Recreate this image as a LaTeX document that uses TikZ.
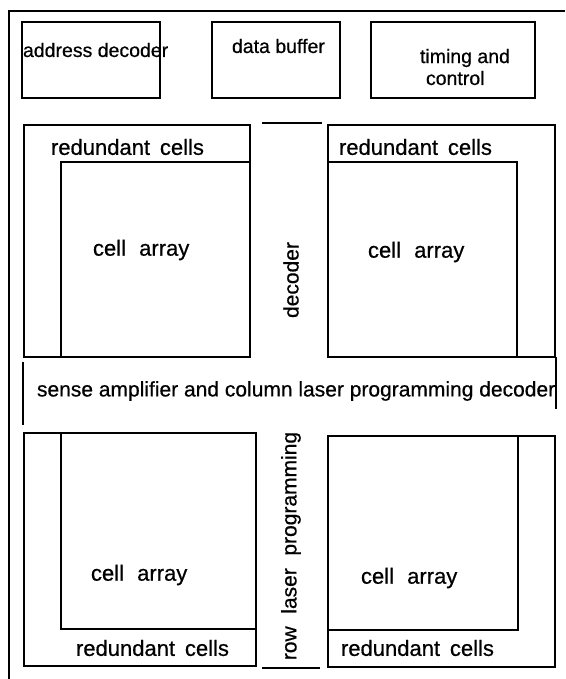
\documentclass[tikz,border=0pt]{standalone}
\usepackage{fontspec}
\setmainfont[FakeBold=0.6]{Liberation Sans}
\begin{document}
\begin{tikzpicture}[x=1pt,y=-1pt,line width=2pt,
  box/.style={draw,line width=2pt},
  lbl/.style={inner sep=0pt,anchor=west,font=\fontsize{22}{26}\selectfont},
  toplbl/.style={inner sep=0pt,anchor=west,font=\fontsize{19.5}{24}\selectfont},
  vlbl/.style={inner sep=0pt,rotate=90,font=\fontsize{21}{25}\selectfont}]
\useasboundingbox (0,0) rectangle (565,679);

% outer frame (left and top edges only)
\coordinate (fb) at (9,679);
\coordinate (fc) at (9,11);
\coordinate (fr) at (565,11);
\draw (fb) -- (fc) -- (fr);

% top row of peripheral blocks
\node[toplbl] (adt) at (22,50) {address decoder};
\draw[box] (22,22) rectangle (160,98);
\node[toplbl] (dbt) at (231,46) {data buffer};
\draw[box] (212,22) rectangle (340,98);
\draw[box] (371,22) rectangle (535,98);
\node[toplbl] (tct) at (419,58) {timing and};
\node[toplbl] (tcc) at (425,78) {control};

% upper left array with redundant cells
\draw[box] (24,125) rectangle (250,357);
\draw[box] (61,162) rectangle (250,357);
\node[lbl] (rc1) at (50,147) {redundant\hspace{.45em}cells};
\node[lbl] (ca1) at (92,250) {cell\hspace{.6em}array};

% upper right array with redundant cells
\draw[box] (328,125) rectangle (555,357);
\draw[box] (328,162) rectangle (517,357);
\node[lbl] (rc2) at (338,147) {redundant\hspace{.45em}cells};
\node[lbl] (ca2) at (367,252) {cell\hspace{.6em}array};

% row decoder column
\coordinate (dt1) at (262,123);
\coordinate (dt2) at (322,123);
\draw (dt1) -- (dt2);
\node[vlbl] (dec) at (291,280) {decoder};
\node[vlbl] (rlp) at (291,546) {row\hspace{.6em}laser\hspace{.6em}programming};
\coordinate (db1) at (262,668);
\coordinate (db2) at (320,668);
\draw (db1) -- (db2);

% sense amplifier band
\coordinate (sl1) at (23,362);
\coordinate (sl2) at (23,425);
\draw (sl1) -- (sl2);
\coordinate (sr1) at (556,357);
\coordinate (sr2) at (556,409);
\draw (sr1) -- (sr2);
\node[inner sep=0pt,anchor=west,font=\fontsize{21}{25}\selectfont] (sa) at (36,391)
  {sense amplifier and column laser programming decoder};

% lower left array with redundant cells
\draw[box] (24,433) rectangle (256,666);
\draw[box] (61,433) rectangle (256,629);
\node[lbl] (ca3) at (90,575) {cell\hspace{.6em}array};
\node[lbl] (rc3) at (75,648) {redundant\hspace{.45em}cells};

% lower right array with redundant cells
\draw[box] (328,436) rectangle (555,667);
\draw[box] (328,436) rectangle (518,630);
\node[lbl] (ca4) at (360,578) {cell\hspace{.6em}array};
\node[lbl] (rc4) at (340,648) {redundant\hspace{.45em}cells};
\end{tikzpicture}
\end{document}
